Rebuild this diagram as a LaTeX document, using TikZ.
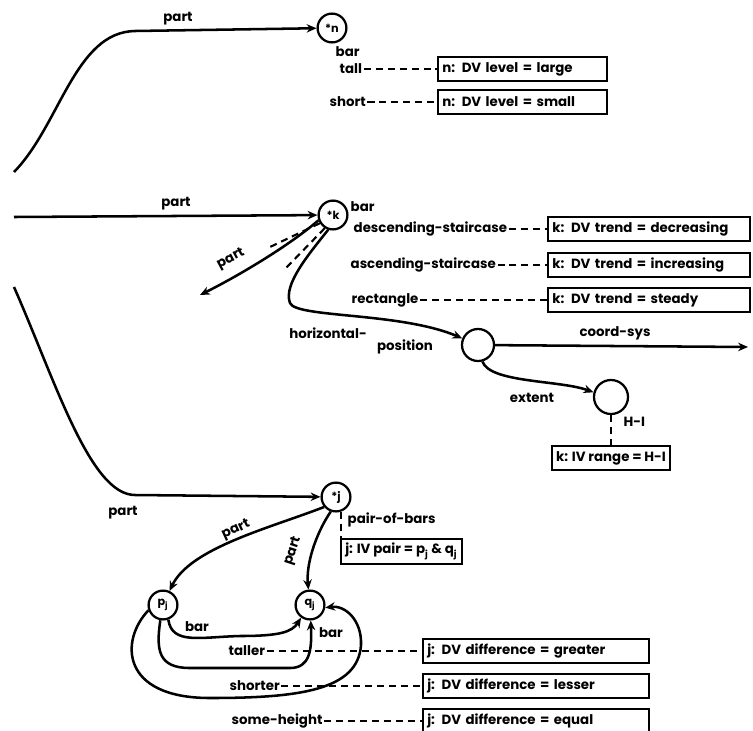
\documentclass[tikz,border=0pt]{standalone}
\usepackage{fontspec}
\setmainfont{Poppins}
\usetikzlibrary{arrows.meta}

\begin{document}
\begin{tikzpicture}[x=0.025cm,y=-0.025cm,
        font=\fontsize{9.5}{11}\selectfont\bfseries,
        entity/.style={circle,draw,line width=1.6pt,minimum size=0.72cm,inner sep=0pt,font=\fontsize{8}{9}\selectfont\bfseries},
        valbox/.style={draw,line width=1.5pt,minimum height=0.6cm,inner sep=3pt,anchor=west,align=left},
        arr/.style={line width=1.8pt,-{Stealth[length=7pt,width=6pt]}},
        relline/.style={line width=1.5pt,dash pattern=on 5pt off 3.5pt},
        lab/.style={inner sep=1pt}]
        \useasboundingbox (0,0) rectangle (753,730);

        \node[entity] (n) at (332,28) {*n};
        \draw[arr] (14,172) .. controls (60,125) and (75,32) .. (135,31) -- (n);
        \node[lab] at (178,19) {part};
        \node[lab,anchor=west] at (334,52) {bar};
        \node[lab,anchor=west] (tall) at (338,69) {tall};
        \node[lab,anchor=west] (short) at (328,102) {short};
        \node[valbox,text width=4.02cm] (large) at (437,69) {n: DV level = large};
        \node[valbox,text width=4.02cm] (small) at (437,102) {n: DV level = small};
        \draw[relline] (tall) -- (large);
        \draw[relline] (short) -- (small);

        \node[entity] (k) at (333,215) {*k};
        \draw[arr] (14,217) -- (k);
        \node[lab] at (176,204) {part};
        \node[lab,anchor=west] at (349,207) {bar};
        \node[lab,anchor=west] (desc) at (352,229) {descending-staircase};
        \node[lab,anchor=west] (asc) at (349,265) {ascending-staircase};
        \node[lab,anchor=west] (rect) at (350,300) {rectangle};
        \node[valbox,text width=4.84cm] (decr) at (547,229) {k: DV trend = decreasing};
        \node[valbox,text width=4.84cm] (incr) at (547,265) {k: DV trend = increasing};
        \node[valbox,text width=4.84cm] (stdy) at (547,300) {k: DV trend = steady};
        \draw[relline] (desc) -- (decr);
        \draw[relline] (asc) -- (incr);
        \draw[relline] (rect) -- (stdy);
        \draw[arr] (k.200) .. controls (290,245) and (240,275) .. (200,295);
        \node[lab,rotate=28] at (231,259) {part};
        \draw[relline] (k.212) -- (270,247);
        \draw[relline] (k.238) -- (286,268);

        \node[entity,minimum size=0.8cm] (h) at (478,345) {};
        \draw[arr] (k.252) .. controls (308,255) and (283,285) .. (290,303) .. controls (296,318) and (400,312) .. (h);
        \node[lab] at (328,333) {horizontal-};
        \node[lab] at (405,347) {position};
        \coordinate (cs) at (748,347);
        \draw[arr] (h) -- (cs);
        \node[lab] at (615,333) {coord-sys};
        \node[entity,minimum size=0.85cm] (e) at (611,397) {};
        \draw[arr] (h.285) .. controls (490,383) and (560,380) .. (e.165);
        \node[lab] at (532,398) {extent};
        \node[valbox,anchor=center] (range) at (611,458) {k: IV range = H-I};
        \draw[relline] (e) -- (range);
        \node[lab,anchor=west] at (622,422) {H-I};

        \node[entity] (j) at (336,497) {*j};
        \draw[arr] (14,287) .. controls (55,380) and (90,495) .. (135,495) -- (j);
        \node[lab] at (123,513) {part};
        \node[valbox,anchor=north west] (pair) at (340,538) {j: IV pair = p\textsubscript{j} \& q\textsubscript{j}};
        \draw[relline] (j.290) -- (j.290 |- pair.north);
        \node[lab,anchor=west] at (346,520) {pair-of-bars};

        \node[entity] (pj) at (163,605) {p\textsubscript{j}};
        \node[entity] (qj) at (310,605) {q\textsubscript{j}};
        \draw[arr] (j.220) .. controls (270,528) and (190,548) .. (pj.65);
        \node[lab,rotate=25] at (236,530) {part};
        \draw[arr] (j.250) .. controls (315,535) and (306,565) .. (qj);
        \node[lab,rotate=72] at (293,551) {part};

        \draw[arr] (pj.290) .. controls (172,645) and (200,637) .. (240,636) .. controls (280,636) and (292,632) .. (qj.235);
        \node[lab] at (197,627) {bar};
        \draw[arr] (pj.260) .. controls (156,650) and (158,668) .. (190,668) -- (290,668) .. controls (310,668) and (312,650) .. (qj);
        \node[lab] at (331,633) {bar};
        \draw[arr] (pj.200) .. controls (120,640) and (120,698) .. (210,698) .. controls (300,698) and (358,690) .. (361,645) .. controls (362,620) and (345,605) .. (qj.350);

        \node[lab,anchor=west] (taller) at (227,651) {taller};
        \node[lab,anchor=west] (shorter) at (228,686) {shorter};
        \node[lab,anchor=west] (same) at (230,721) {some-height};
        \node[valbox,text width=5.44cm] (greater) at (422,651) {j: DV difference = greater};
        \node[valbox,text width=5.44cm] (lesser) at (422,686) {j: DV difference = lesser};
        \node[valbox,text width=5.44cm] (equal) at (422,721) {j: DV difference = equal};
        \draw[relline] (taller) -- (greater);
        \draw[relline] (shorter) -- (lesser);
        \draw[relline] (same) -- (equal);
    \end{tikzpicture}
\end{document}
